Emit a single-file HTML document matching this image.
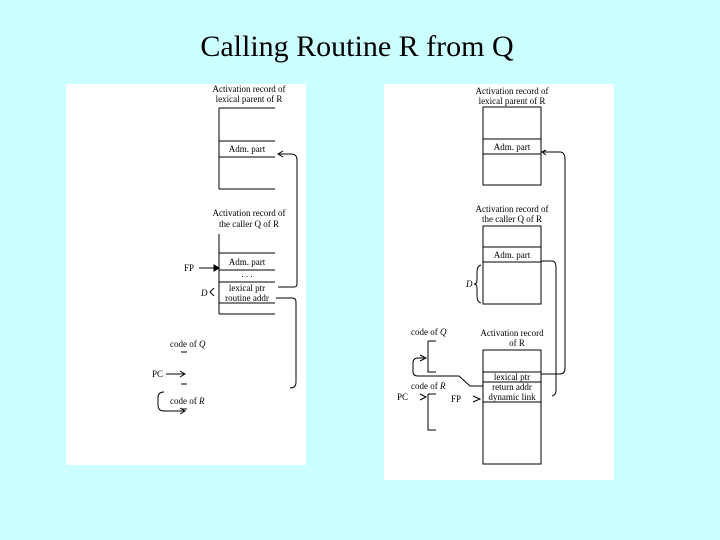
<!DOCTYPE html>
<html><head><meta charset="utf-8"><style>
body{margin:0;background:#ccffff;width:720px;height:540px;overflow:hidden}
svg{display:block}
text{font-family:"Liberation Serif",serif;fill:#000}
.s{font-size:9px}
</style></head><body>
<svg width="720" height="540" viewBox="0 0 720 540">
<text x="357" y="56" font-size="30" text-anchor="middle">Calling Routine R from Q</text>
<rect x="66" y="84" width="240" height="381" fill="#fff"/>
<rect x="384" y="84" width="230" height="396" fill="#fff"/>
<g stroke="#000" stroke-width="1" fill="none">
<path d="M219 108V189M219 108H275M219 141H275M219 157H275M219 189H275"/>
<path d="M219 234V314M219 253H275M219 270H275M219 282H275M219 303H275M219 314H275"/>
<path d="M199 268H217"/><path d="M214 265L219 268L214 271Z" fill="#000"/>
<path d="M278 287H294Q297 287 297 284V160Q297 154 291 154H279"/><path d="M283 151L278 154L283 157"/>
<path d="M276 298H292Q296 298 296 302V382Q296 388 290 388"/>
<path d="M214 288L210 292L214 296"/>
<path d="M181 352H187M181 384H187M181 409H187"/>
<path d="M166 374H184"/><path d="M180 371L185 374L180 377"/>
<path d="M164 392Q158 392 158 398V405Q158 411 164 411H184"/><path d="M180 408L185 411L180 414"/>
<rect x="483" y="107" width="58" height="78"/><path d="M483 139H541M483 154H541"/>
<rect x="483" y="226" width="58" height="78"/><path d="M483 247H541M483 262H541"/>
<rect x="483" y="350" width="58" height="114"/><path d="M483 372H541M483 382H541M483 402H541"/>
<path d="M481 265Q477 266 477 272V280Q477 284 474 284Q477 284 477 288V296Q477 302 481 303"/>
<path d="M546 150L542 152L546 155M543 152H560Q565 152 565 160V368Q565 374 560 374H541"/>
<path d="M541 261H552Q556 261 556 268V390Q556 395 552 396"/>
<path d="M428 341H436M428 341V372H436"/>
<path d="M420 355L426 358L420 361"/>
<path d="M424 358H418Q413 358 413 363V372Q413 376 418 376H459L470 386H483"/>
<path d="M428 394H436M428 394V430H436"/>
<path d="M420 394L426 397L420 400"/>
<path d="M473 396L480 399L473 402"/>
</g>
<g class="s" text-anchor="middle">
<text x="249" y="92">Activation record of</text>
<text x="249" y="102">lexical parent of  R</text>
<text x="247" y="152">Adm. part</text>
<text x="249" y="216">Activation record of</text>
<text x="249" y="227">the caller  Q of  R</text>
<text x="247" y="265">Adm. part</text>
<text x="247" y="277">. . .</text>
<text x="247" y="291">lexical ptr</text>
<text x="247" y="301">routine addr</text>
<text x="512" y="94">Activation record of</text>
<text x="512" y="104">lexical parent of  R</text>
<text x="512" y="150">Adm. part</text>
<text x="512" y="212">Activation record of</text>
<text x="512" y="222">the caller  Q of  R</text>
<text x="512" y="258">Adm. part</text>
<text x="512" y="336">Activation record</text>
<text x="517" y="346">of  R</text>
<text x="512" y="380">lexical ptr</text>
<text x="512" y="390">return addr</text>
<text x="512" y="400">dynamic link</text>
</g>
<g class="s">
<text x="184" y="271">FP</text>
<text x="201" y="296" font-style="italic">D</text>
<text x="170" y="347">code of <tspan font-style="italic">Q</tspan></text>
<text x="152" y="377">PC</text>
<text x="170" y="404">code of <tspan font-style="italic">R</tspan></text>
<text x="466" y="287" font-style="italic">D</text>
<text x="411" y="335">code of <tspan font-style="italic">Q</tspan></text>
<text x="411" y="389">code of <tspan font-style="italic">R</tspan></text>
<text x="397" y="400">PC</text>
<text x="451" y="402">FP</text>
</g>
</svg>
</body></html>
